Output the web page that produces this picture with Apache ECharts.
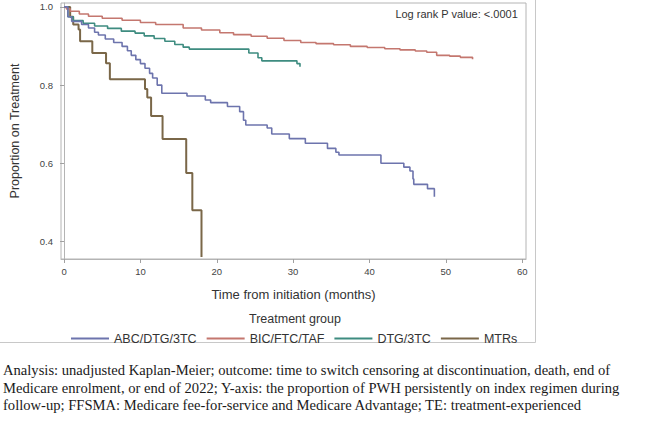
<!DOCTYPE html>
<html>
<head>
<meta charset="utf-8">
<script src="https://cdn.jsdelivr.net/npm/echarts@6/dist/echarts.min.js"></script>
<style>
  html, body { margin: 0; padding: 0; background: #fff; }
  #chart { width: 647px; height: 425px; }
</style>
</head>
<body>
<div id="chart"></div>
<script>
// Kaplan-Meier curves: [months, proportion]
const abcDtg3tc = [
  [0, 1], [0.5, 0.975], [1.0, 0.963], [2.3, 0.955], [3.2, 0.946], [4.0, 0.935],
  [4.5, 0.928], [5.4, 0.918], [6.5, 0.909], [7.6, 0.899], [8.3, 0.888], [8.8, 0.876],
  [9.4, 0.865], [10.0, 0.855], [10.6, 0.843], [11.2, 0.830], [11.6, 0.818], [12.2, 0.800],
  [12.8, 0.779], [16.1, 0.772], [18.5, 0.762], [19.2, 0.755], [21.4, 0.745], [23.0, 0.732],
  [23.5, 0.710], [23.8, 0.698], [26.6, 0.690], [27.2, 0.675], [29.5, 0.663], [31.6, 0.651],
  [34.5, 0.638], [35.6, 0.628], [36.0, 0.621], [41.5, 0.600], [44.5, 0.590], [45.3, 0.580],
  [45.7, 0.560], [45.8, 0.546], [47.6, 0.535], [48.5, 0.514]
]
const bicFtcTaf = [
  [0, 1], [0.3, 0.995], [0.8, 0.989], [2.0, 0.982], [3.2, 0.976], [5.0, 0.971], [7.6, 0.966],
  [10.0, 0.960], [12.0, 0.955], [15.6, 0.946], [18.0, 0.941], [20.4, 0.934], [22.2, 0.929],
  [24.5, 0.925], [26.6, 0.920], [28.8, 0.914], [31.0, 0.909], [33.0, 0.906], [35.3, 0.903],
  [37.5, 0.899], [39.7, 0.896], [42.0, 0.893], [44.0, 0.890], [46.0, 0.887], [47.5, 0.884],
  [48.8, 0.876], [50.5, 0.874], [51.9, 0.871], [53.5, 0.866]
]
const dtg3tc = [
  [0, 1], [0.5, 0.975], [1.2, 0.965], [2.5, 0.958], [4.0, 0.951], [5.7, 0.945], [7.5, 0.938],
  [9.3, 0.933], [10.5, 0.926], [11.8, 0.919], [13.2, 0.912], [14.5, 0.904], [15.6, 0.897],
  [16.4, 0.892], [24.2, 0.882], [25.4, 0.870], [25.9, 0.862], [30.5, 0.855], [30.9, 0.847]
]
const mtrs = [
  [0, 1], [0.8, 0.975], [1.2, 0.955], [1.9, 0.942], [2.1, 0.912], [3.7, 0.882], [5.5, 0.856],
  [6.0, 0.815], [10.6, 0.790], [10.9, 0.768], [11.4, 0.721], [12.9, 0.662], [16.0, 0.575],
  [16.8, 0.480], [18.0, 0.360]
]

const groupNames = ['ABC/DTG/3TC', 'BIC/FTC/TAF', 'DTG/3TC', 'MTRs']
const groupColors = ['#6d74ad', '#c4776f', '#3e8c80', '#7a6748']
const xTicks = [0, 10, 20, 30, 40, 50, 60]
const yTicks = [0.4, 0.6, 0.8, 1.0]

const captionLines = [
  'Analysis: unadjusted Kaplan-Meier; outcome: time to switch censoring at discontinuation, death, end of',
  'Medicare enrolment, or end of 2022; Y-axis: the proportion of PWH persistently on index regimen during',
  'follow-up; FFSMA: Medicare fee-for-service and Medicare Advantage; TE: treatment-experienced'
]

const chart = echarts.init(document.getElementById('chart'), null, { renderer: 'svg' })

const seriesData = [abcDtg3tc, bicFtcTaf, dtg3tc, mtrs]

const option = {
  backgroundColor: '#fff',
  animation: false,
  textStyle: { fontFamily: 'Liberation Sans, Arial, sans-serif' },
  grid: {
    left: 61, right: 121, top: 3, bottom: 166,
    show: true, borderColor: '#b4b4b4', borderWidth: 1
  },
  xAxis: {
    type: 'value',
    min: -0.4,
    max: 60.5,
    name: 'Time from initiation (months)',
    nameLocation: 'middle',
    nameGap: 29,
    nameTextStyle: { fontSize: 13, color: '#333' },
    axisLine: { show: true, lineStyle: { color: '#b4b4b4' } },
    axisTick: { show: true, length: 4, customValues: xTicks, lineStyle: { color: '#a0a0a0' } },
    axisLabel: { customValues: xTicks, fontSize: 9.5, color: '#444', margin: 7 },
    splitLine: { show: false }
  },
  yAxis: {
    type: 'value',
    min: 0.355,
    max: 1.01,
    name: 'Proportion on Treatment',
    nameLocation: 'middle',
    nameRotate: 90,
    nameGap: 40,
    nameTextStyle: { fontSize: 12.5, color: '#333' },
    axisLine: { show: true, lineStyle: { color: '#b4b4b4' } },
    axisTick: { show: true, length: 4, customValues: yTicks, lineStyle: { color: '#a0a0a0' } },
    axisLabel: {
      customValues: yTicks, fontSize: 9.5, color: '#444', margin: 8,
      formatter: v => v.toFixed(1)
    },
    splitLine: { show: false }
  },
  legend: {
    data: groupNames,
    left: 66,
    top: 327,
    icon: 'rect',
    itemWidth: 38,
    itemHeight: 2,
    itemGap: 10,
    textStyle: { fontSize: 12.5, color: '#333' }
  },
  graphic: [
    {
      type: 'rect', silent: true,
      shape: { x: -2, y: -2, width: 537.5, height: 344.5 },
      style: { fill: 'none', stroke: '#c8c8c8', lineWidth: 1 }
    },
    {
      type: 'text', right: 129, top: 8,
      style: { text: 'Log rank P value: <.0001', fill: '#333',
        font: '11px Liberation Sans, Arial, sans-serif' }
    },
    {
      type: 'text', x: 295, y: 319,
      style: { text: 'Treatment group', fill: '#333', align: 'center',
        verticalAlign: 'middle', font: '12.5px Liberation Sans, Arial, sans-serif' }
    }
  ].concat(captionLines.map((line, i) => ({
    type: 'text', x: 3, y: 370 + i * 17.5,
    style: {
      text: line, fill: '#1a1a1a', verticalAlign: 'middle',
      font: '14.6px "Liberation Serif", "Times New Roman", serif'
    }
  }))),
  series: groupNames.map((name, i) => ({
    name: name,
    type: 'line',
    step: 'end',
    data: seriesData[i],
    showSymbol: false,
    symbol: 'none',
    color: groupColors[i],
    lineStyle: { color: groupColors[i], width: i === 3 ? 2 : 1.6 },
    z: 4 - i
  }))
}

chart.setOption(option)
</script>
</body>
</html>
